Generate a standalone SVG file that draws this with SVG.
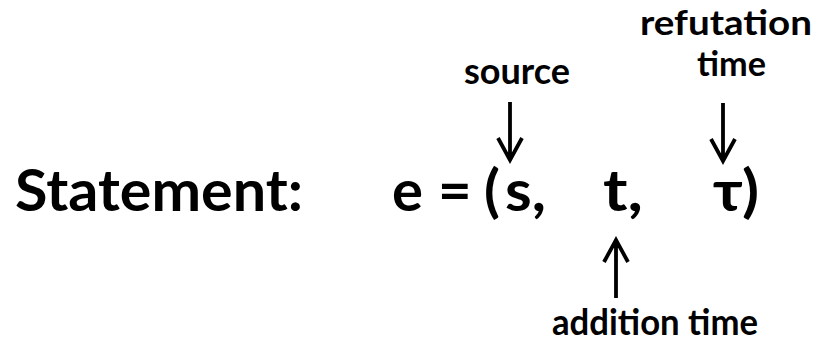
<svg xmlns="http://www.w3.org/2000/svg" width="817" height="343" viewBox="0 0 817 343">
  <style>
    text { font-family: Lato, "Open Sans", "DejaVu Sans", sans-serif; font-weight: 700; fill: #000; }
    .big { font-size: 58px; }
    .lbl { font-size: 37px; }
    .lbl2 { font-size: 34px; }
    .arr { fill: none; stroke: #000; stroke-width: 3.8; stroke-linecap: butt; stroke-linejoin: miter; }
  </style>
  <rect width="817" height="343" fill="#fff"/>
  <g id="statement">
    <text class="big" x="15" y="211" textLength="288" lengthAdjust="spacingAndGlyphs">Statement:</text>
  </g>
  <g id="formula">
    <text class="big" x="392" y="211">e</text>
    <text class="big" x="438" y="211">=</text>
    <text class="big" x="484" y="211">(</text>
    <text class="big" x="505" y="211" textLength="41" lengthAdjust="spacingAndGlyphs">s,</text>
    <text class="big" x="603" y="211" textLength="40" lengthAdjust="spacingAndGlyphs">t,</text>
    <text class="big" x="713" y="211" textLength="46" lengthAdjust="spacingAndGlyphs">τ)</text>
  </g>
  <g id="source">
    <text class="lbl" x="464" y="84" textLength="106" lengthAdjust="spacingAndGlyphs">source</text>
  </g>
  <g id="refutation-time">
    <text class="lbl2" x="640" y="35" textLength="172" lengthAdjust="spacingAndGlyphs">refutation</text>
    <text class="lbl2" x="697" y="76" textLength="69" lengthAdjust="spacingAndGlyphs">time</text>
  </g>
  <g id="addition-time">
    <text class="lbl" x="552" y="335" textLength="206" lengthAdjust="spacingAndGlyphs">addition time</text>
  </g>
  <g id="connectors">
    <path class="arr" d="M510 102 V158 M498 138 L510 160 L522 138"/>
    <path class="arr" d="M723 103 V159 M711 139 L723 161 L735 139"/>
    <path class="arr" d="M616 298 V242 M604 262 L616 240 L628 262"/>
  </g>
</svg>
